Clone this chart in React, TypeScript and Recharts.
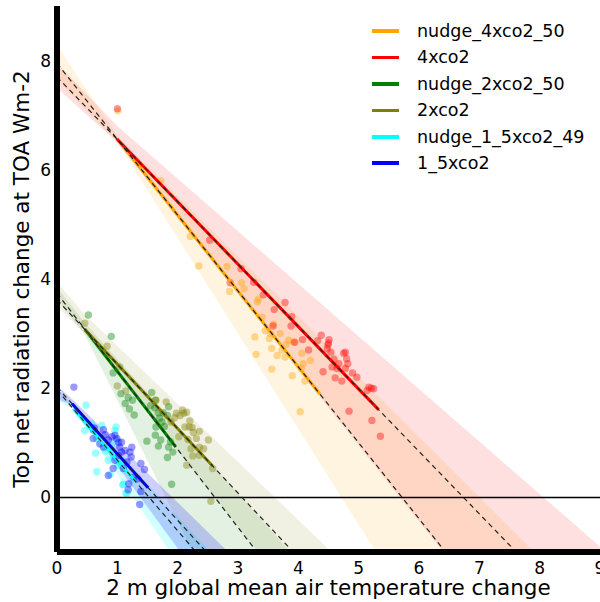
import React from 'react';
import { ComposedChart, Scatter, Line, Area, XAxis, YAxis, ReferenceLine, Legend } from 'recharts';

const FONT = 'DejaVu Sans';

const SERIES = ['nudge_4xco2_50', '4xco2', 'nudge_2xco2_50', '2xco2', 'nudge_1_5xco2_49', '1_5xco2'];
const COLORS = ['#FFA500', '#FF0000', '#008000', '#808000', '#00FFFF', '#0000FF'];
const BAND_OPACITY = [0.12, 0.12, 0.11, 0.11, 0.17, 0.19];

const X_TICKS = [0, 1, 2, 3, 4, 5, 6, 7, 8, 9];
const Y_TICKS = [0, 2, 4, 6, 8];
const X_LABEL = '2 m global mean air temperature change';
const Y_LABEL = 'Top net radiation change at TOA Wm-2';

// regression fits (intercept, slope) and fitted range
const FIT_INTERCEPT = [7.95, 7.7, 3.74, 3.62, 1.97, 2.02];
const FIT_SLOPE = [-1.39, -1.143, -1.43, -1.18, -1.29, -1.22];
const FIT_X_START = [1.01, 0.99, 0.46, 0.46, 0.27, 0.25];
const FIT_X_END = [4.36, 5.33, 1.97, 2.58, 1.3, 1.51];

// uncertainty bands
const BAND_X = [
  [0, 1.0, 9],
  [0, 1.0, 9],
  [0, 0.46, 9],
  [0, 0.46, 9],
  [0, 0.27, 9],
  [0, 0.27, 9],
];
const BAND_LO = [
  [7.65, 6.5, -7.5],
  [7.5, 6.5, -4.6],
  [3.62, 2.98, -16.0],
  [3.5, 3.0, -8.9],
  [1.78, 1.62, -12.67],
  [1.8, 1.68, -11.5],
];
const BAND_HI = [
  [8.28, 6.62, -2.2],
  [7.95, 6.8, -0.9],
  [3.85, 3.2, -7.32],
  [3.94, 3.35, -5.73],
  [1.98, 1.72, -8.7],
  [2.05, 1.78, -7.67],
];

const PTS_NUDGE_4X = [
  [1.01, 7.08], [1.72, 5.8], [2.21, 4.78], [2.35, 4.24], [2.82, 4.23], [2.86, 3.77], [3.06, 3.93], [3.1, 3.82],
  [3.34, 3.63], [3.32, 3.58], [3.28, 2.94], [3.3, 2.62], [3.54, 3.0], [3.52, 2.91], [3.56, 2.73], [3.56, 2.35],
  [3.59, 3.17], [3.7, 3.0], [3.84, 2.88], [3.8, 2.8], [3.73, 2.7], [3.78, 2.57], [3.92, 2.85], [4.06, 2.64],
  [4.2, 2.51], [4.05, 2.36], [4.08, 2.45], [3.9, 2.23], [4.11, 2.13], [4.03, 1.57], [3.65, 2.6], [3.45, 3.05],
  [3.4, 3.3],
];
const PTS_4X = [
  [1.0, 7.12], [2.53, 4.71], [3.05, 4.19], [2.87, 3.93], [3.26, 3.94], [3.42, 3.71], [3.6, 3.44], [3.78, 3.57],
  [3.89, 3.31], [3.88, 3.14], [3.58, 3.14], [4.07, 2.89], [3.94, 2.84], [4.38, 2.97], [4.32, 2.87], [4.49, 2.79],
  [4.51, 2.89], [4.48, 2.72], [4.17, 2.7], [4.54, 2.66], [4.78, 2.66], [4.8, 2.54], [4.59, 2.53], [4.67, 2.45],
  [4.82, 2.45], [4.56, 2.39], [4.64, 2.36], [4.78, 2.36], [4.9, 2.28], [4.41, 2.3], [4.61, 2.19], [4.97, 2.2],
  [4.72, 2.13], [5.17, 2.02], [5.25, 1.99], [5.14, 1.96], [5.21, 2.0], [4.84, 1.58], [5.22, 1.41], [5.36, 1.12],
  [4.75, 2.64], [4.5, 2.83],
];
const PTS_NUDGE_2X = [
  [0.52, 3.34], [0.9, 2.95], [0.93, 2.28], [1.06, 1.9], [1.18, 1.83], [1.25, 1.78], [1.28, 1.51], [1.57, 1.92],
  [1.63, 1.78], [1.55, 1.68], [1.62, 1.64], [1.68, 1.55], [1.76, 1.55], [1.64, 1.29], [1.74, 1.38], [1.78, 1.3],
  [1.85, 1.66], [1.83, 1.5], [1.63, 1.14], [1.49, 1.03], [1.68, 0.94], [1.72, 1.05], [1.85, 0.92], [1.88, 1.02],
  [1.92, 0.83], [1.83, 0.73], [1.9, 0.24], [1.13, 1.72], [1.2, 1.62], [1.7, 1.45],
];
const PTS_2X = [
  [0.46, 3.19], [0.83, 2.77], [1.04, 2.39], [1.0, 2.04], [1.14, 1.95], [1.64, 1.78], [1.81, 1.75], [1.98, 1.54],
  [2.04, 1.5], [2.1, 1.54], [2.15, 1.56], [2.08, 1.6], [2.12, 1.29], [2.19, 1.29], [2.24, 1.28], [2.26, 1.19],
  [2.36, 1.21], [2.31, 1.08], [2.17, 1.06], [2.02, 1.11], [2.22, 0.89], [2.36, 0.92], [2.43, 0.89], [2.51, 1.05],
  [2.25, 0.76], [2.36, 0.77], [2.15, 0.59], [2.58, 0.53], [2.55, -0.07], [1.89, 1.38], [1.95, 1.46], [2.2, 1.4],
];
const PTS_NUDGE_15X = [
  [0.48, 1.69], [0.46, 1.22], [0.66, 1.08], [0.64, 0.81], [0.96, 1.23], [0.98, 1.29], [0.99, 1.05], [0.85, 0.68],
  [0.66, 0.47], [0.88, 0.42], [1.1, 0.24], [1.09, 0.23], [1.14, 0.08], [1.16, 0.07], [1.01, 0.59], [1.07, 0.68],
  [0.93, 0.77], [0.57, 1.35], [0.74, 1.32], [0.9, 0.95], [0.8, 0.85],
];
const PTS_15X = [
  [0.28, 2.02], [0.6, 1.24], [0.62, 1.27], [0.6, 1.08], [0.77, 1.24], [0.71, 0.98], [0.77, 0.92], [0.91, 1.11],
  [0.96, 1.14], [0.99, 1.08], [1.02, 1.01], [1.07, 1.01], [1.04, 0.92], [1.07, 0.83], [1.13, 0.86], [1.24, 0.92],
  [1.21, 0.83], [1.23, 0.74], [1.16, 0.65], [0.96, 0.68], [1.02, 0.77], [0.93, 0.53], [0.85, 0.4], [1.1, 0.53],
  [1.39, 0.62], [1.45, 0.51], [1.27, 0.37], [1.34, 0.34], [1.19, 0.25], [1.18, 0.14], [1.39, 0.11], [1.37, -0.13],
  [0.85, 1.05], [0.8, 1.15],
];
const POINTS = [PTS_NUDGE_4X, PTS_4X, PTS_NUDGE_2X, PTS_2X, PTS_NUDGE_15X, PTS_15X];

const toPts = (arr: number[][]) => arr.map(([x, y]) => ({ x, y }));
const bandData = (i: number) => BAND_X[i].map((x, k) => ({ x, lo: BAND_LO[i][k], hi: BAND_HI[i][k] }));
const fitData = (i: number) =>
  [FIT_X_START[i], FIT_X_END[i]].map((x) => ({ x, y: FIT_INTERCEPT[i] + FIT_SLOPE[i] * x }));
const dashData = (i: number) => [0, 9].map((x) => ({ x, y: FIT_INTERCEPT[i] + FIT_SLOPE[i] * x }));

const XLabel = (props: any) => {
  const vb = props.viewBox || { x: 57, y: 552, width: 543, height: 50 };
  return (
    <text x={vb.x + vb.width / 2} y={vb.y + 43} textAnchor="middle" fontSize={21.5} fontFamily={FONT} fill="#000">
      {X_LABEL}
    </text>
  );
};

const YLabel = (props: any) => {
  const vb = props.viewBox || { x: 0, y: 6, width: 57, height: 546 };
  const cx = 28.5;
  const cy = vb.y + vb.height / 2;
  return (
    <text x={cx} y={cy} transform={`rotate(-90 ${cx} ${cy})`} textAnchor="middle" fontSize={21.5} fontFamily={FONT} fill="#000">
      {Y_LABEL}
    </text>
  );
};

const LegendContent = () => (
  <div style={{ fontFamily: FONT, fontSize: 17.5, color: '#000' }}>
    {SERIES.map((name, i) => (
      <div key={name} style={{ display: 'flex', alignItems: 'center', height: 26.4 }}>
        <div style={{ width: 27, height: 3.5, background: COLORS[i] }} />
        <span style={{ marginLeft: 18, lineHeight: '26.4px', whiteSpace: 'nowrap' }}>{name}</span>
      </div>
    ))}
  </div>
);

const makeDot = (color: string) => (props: any) =>
  props.cx == null ? <g /> : <circle cx={props.cx} cy={props.cy} r={3.7} fill={color} fillOpacity={0.4} stroke="none" />;

export default function App() {
  const idx = [0, 1, 2, 3, 4, 5];
  return (
    <div style={{ position: 'absolute', left: 0, top: 0, width: 600, height: 602, background: '#fff' }}>
      <ComposedChart width={600} height={602} margin={{ top: 6, right: 0, bottom: 0, left: 0 }}>
        <XAxis
          dataKey="x"
          type="number"
          domain={[0, 9]}
          ticks={X_TICKS}
          interval={0}
          allowDataOverflow
          height={50}
          axisLine={{ stroke: '#000', strokeWidth: 6 }}
          tickLine={false}
          tickSize={0}
          tickMargin={10}
          tick={{ fontSize: 17, fill: '#000', fontFamily: FONT }}
          label={{ content: XLabel }}
        />
        <XAxis
          xAxisId="top"
          orientation="top"
          type="number"
          domain={[0, 9]}
          ticks={X_TICKS}
          interval={0}
          mirror
          height={0}
          axisLine={false}
          tickSize={4}
          tickLine={{ stroke: '#555', strokeWidth: 0.8 }}
          tickFormatter={() => ''}
        />
        <YAxis
          dataKey="y"
          type="number"
          domain={[-1, 9]}
          ticks={Y_TICKS}
          interval={0}
          allowDataOverflow
          width={57}
          axisLine={{ stroke: '#000', strokeWidth: 6 }}
          tickLine={false}
          tickSize={0}
          tickMargin={6}
          tick={{ fontSize: 17, fill: '#000', fontFamily: FONT }}
          label={{ content: YLabel }}
        />
        <YAxis
          yAxisId="right"
          orientation="right"
          type="number"
          domain={[-1, 9]}
          ticks={Y_TICKS}
          interval={0}
          mirror
          width={0}
          axisLine={false}
          tickSize={4}
          tickLine={{ stroke: '#555', strokeWidth: 0.8 }}
          tickFormatter={() => ''}
        />
        <Legend
          layout="vertical"
          align="center"
          verticalAlign="middle"
          wrapperStyle={{ position: 'absolute', left: 372, top: 18, width: 228, height: 160 }}
          content={LegendContent}
        />
        {idx.map((i) => (
          <Area
            key={`band${i}`}
            data={bandData(i)}
            dataKey={(d: any) => [d.lo, d.hi]}
            type="linear"
            stroke="none"
            fill={COLORS[i]}
            fillOpacity={BAND_OPACITY[i]}
            isAnimationActive={false}
            activeDot={false}
            dot={false}
          />
        ))}
        <ReferenceLine y={0} stroke="#000" strokeWidth={1.5} />
        {idx.map((i) => (
          <Scatter
            key={`pts${i}`}
            data={toPts(POINTS[i])}
            dataKey="y"
            shape={makeDot(COLORS[i])}
            isAnimationActive={false}
            zIndex={350}
          />
        ))}
        {idx.map((i) => (
          <Line
            key={`fit${i}`}
            data={fitData(i)}
            dataKey="y"
            type="linear"
            stroke={COLORS[i]}
            strokeWidth={3}
            dot={false}
            activeDot={false}
            isAnimationActive={false}
          />
        ))}
        {idx.map((i) => (
          <Line
            key={`dash${i}`}
            data={dashData(i)}
            dataKey="y"
            type="linear"
            stroke="#222"
            strokeWidth={1.2}
            strokeDasharray="5 4"
            dot={false}
            activeDot={false}
            isAnimationActive={false}
          />
        ))}
      </ComposedChart>
    </div>
  );
}
